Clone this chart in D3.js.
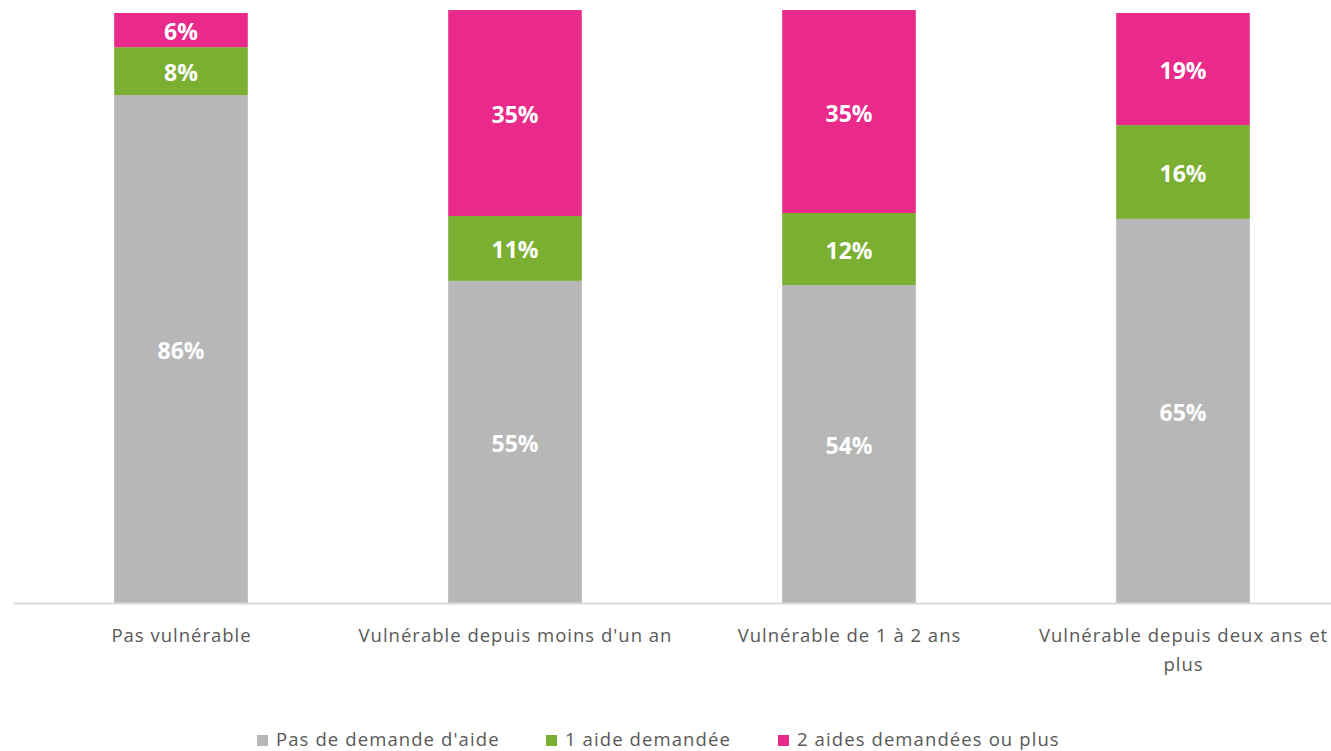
<!DOCTYPE html>
<html>
<head>
<meta charset="utf-8">
<script src="https://cdn.jsdelivr.net/npm/d3@7"></script>
<style>
  body { margin: 0; background: #fff; }
  text { font-family: "Open Sans", Lato, sans-serif; }
</style>
</head>
<body>
<svg id="chart" width="1331" height="751"></svg>
<script>
// categories and series (percent)
const categories = [
  "Pas vulnérable",
  "Vulnérable depuis moins d'un an",
  "Vulnérable de 1 à 2 ans",
  "Vulnérable depuis deux ans et plus"
];
const seriesNames = ["Pas de demande d'aide", "1 aide demandée", "2 aides demandées ou plus"];
const pasDemande = [86.1, 54.6, 53.9, 65.1];
const uneAide = [8.1, 11.0, 12.2, 15.9];
const deuxAides = [5.8, 34.9, 34.4, 19.0];
const labelsPas = ["86%", "55%", "54%", "65%"];
const labelsUne = ["8%", "11%", "12%", "16%"];
const labelsDeux = ["6%", "35%", "35%", "19%"];
const colors = ["#b7b7b7", "#7aaf31", "#ea2a8a"];

const svg = d3.select("#chart");
const margin = { left: 14, right: 0, top: 13, bottom: 148 };
const width = 1331;
const height = 751;

const x = d3.scaleBand()
  .domain(categories)
  .range([14, 1350])
  .paddingInner(0.6)
  .paddingOuter(0.3);

const y = d3.scaleLinear()
  .domain([0, 100])
  .range([height - margin.bottom, margin.top]);

const rows = categories.map((c, i) => ({
  cat: c,
  s0: pasDemande[i], s1: uneAide[i], s2: deuxAides[i],
  l0: labelsPas[i], l1: labelsUne[i], l2: labelsDeux[i]
}));
const keys = ["s0", "s1", "s2"];
const stacked = d3.stack().keys(keys)(rows);

const layers = svg.selectAll("g.layer")
  .data(stacked)
  .enter().append("g")
  .attr("class", "layer")
  .attr("fill", (d, i) => colors[i]);

layers.selectAll("rect")
  .data(d => d)
  .enter().append("rect")
  .attr("x", d => x(d.data.cat))
  .attr("width", x.bandwidth())
  .attr("y", d => y(d[1]))
  .attr("height", d => y(d[0]) - y(d[1]));

// value labels
stacked.forEach((layer, i) => {
  svg.append("g").selectAll("text")
    .data(layer)
    .enter().append("text")
    .attr("x", d => x(d.data.cat) + x.bandwidth() / 2)
    .attr("y", d => (y(d[0]) + y(d[1])) / 2 + 2)
    .attr("dy", "0.35em")
    .attr("text-anchor", "middle")
    .attr("fill", "#fff")
    .style("font-size", "23px")
    .style("font-weight", "bold")
    .text(d => d.data["l" + i]);
});

// x axis
const xAxis = svg.append("g")
  .attr("transform", `translate(0,${y(0)})`)
  .call(d3.axisBottom(x).tickSize(0).tickPadding(0));
xAxis.select(".domain").attr("d", `M14,0.5H${width}`).attr("stroke", "#d9d9d9").attr("stroke-width", 2);

xAxis.selectAll(".tick text").remove();
xAxis.selectAll(".tick").each(function (d) {
  const g = d3.select(this);
  const lines = d === "Vulnérable depuis deux ans et plus"
    ? ["Vulnérable depuis deux ans et", "plus"] : [d];
  lines.forEach((t, k) => {
    g.append("text")
      .attr("x", 0.5)
      .attr("y", 38.7 + k * 29)
      .attr("text-anchor", "middle")
      .attr("fill", "#595959")
      .style("font-size", "18.5px")
      .style("letter-spacing", "1px")
      .text(t);
  });
});

// legend
const legendX = [257, 546, 778];
const legend = svg.append("g").attr("transform", "translate(0,746)");
seriesNames.forEach((n, i) => {
  legend.append("rect")
    .attr("x", legendX[i]).attr("y", -11)
    .attr("width", 11).attr("height", 11)
    .attr("fill", colors[i]);
  legend.append("text")
    .attr("x", legendX[i] + 19).attr("y", 0)
    .attr("fill", "#595959")
    .style("font-size", "18.5px")
    .style("letter-spacing", "1.1px")
    .text(n);
});
</script>
</body>
</html>
